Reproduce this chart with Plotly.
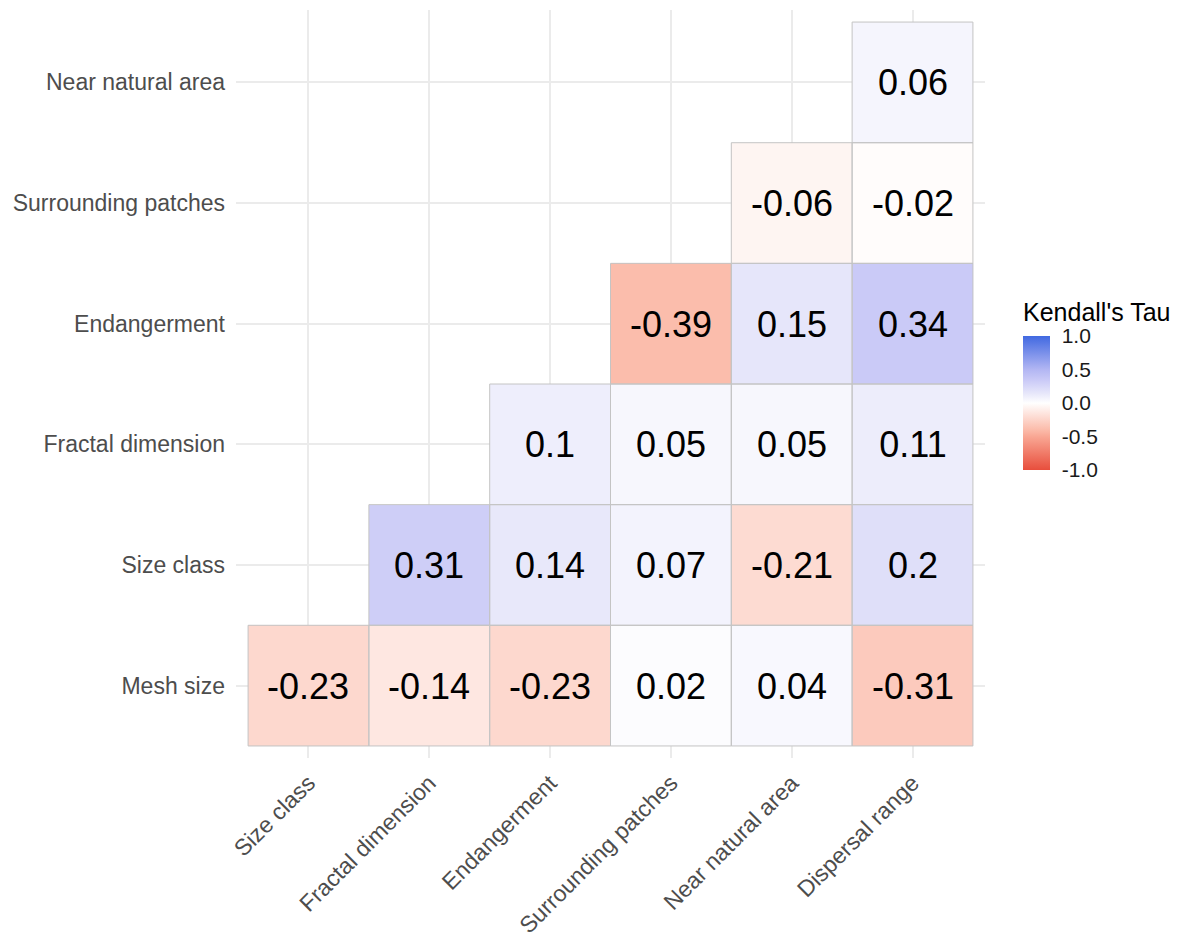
import plotly.graph_objects as go

# Variables on each axis
x_vars = ["Size class", "Fractal dimension", "Endangerment",
          "Surrounding patches", "Near natural area", "Dispersal range"]
y_vars = ["Mesh size", "Size class", "Fractal dimension",
          "Endangerment", "Surrounding patches", "Near natural area"]

# Kendall's tau per row (y variable), lower triangle only
tau_mesh_size = [-0.23, -0.14, -0.23, 0.02, 0.04, -0.31]
tau_size_class = [None, 0.31, 0.14, 0.07, -0.21, 0.2]
tau_fractal_dimension = [None, None, 0.1, 0.05, 0.05, 0.11]
tau_endangerment = [None, None, None, -0.39, 0.15, 0.34]
tau_surrounding_patches = [None, None, None, None, -0.06, -0.02]
tau_near_natural_area = [None, None, None, None, None, 0.06]

z = [tau_mesh_size, tau_size_class, tau_fractal_dimension,
     tau_endangerment, tau_surrounding_patches, tau_near_natural_area]
text = [["" if v is None else f"{v:g}" for v in row] for row in z]

colorscale = [
    [0.00, "rgb(232,78,60)"],
    [0.25, "rgb(249,167,148)"],
    [0.30, "rgb(251,187,170)"],
    [0.50, "rgb(255,255,255)"],
    [0.575, "rgb(230,230,250)"],
    [0.67, "rgb(202,202,247)"],
    [0.75, "rgb(178,182,243)"],
    [1.00, "rgb(65,105,225)"],
]

FONT = "Liberation Sans, Arial, sans-serif"

# Panel geometry in pixels
W, H = 1181, 937
ML, MR, MT, MB = 236, 196, 10, 179
PW, PH = W - ML - MR, H - MT - MB

fig = go.Figure(go.Heatmap(
    z=z, x=x_vars, y=y_vars, text=text, texttemplate="%{text}",
    textfont=dict(size=36, color="black", family=FONT),
    colorscale=colorscale, zmin=-1, zmax=1, hoverongaps=False,
    colorbar=dict(
        thickness=27, thicknessmode="pixels", len=134, lenmode="pixels",
        x=(1023 - ML) / PW, xanchor="left", xpad=0, ypad=0,
        y=(H - MB - 470) / PH, yanchor="bottom",
        tickvals=[-1, -0.5, 0, 0.5, 1],
        ticktext=["-1.0", "-0.5", "0.0", "0.5", "1.0"],
        ticks="outside", ticklen=8, tickcolor="white", tickwidth=1,
        tickfont=dict(size=21, color="#1A1A1A", family=FONT),
        outlinewidth=0,
    ),
))

# Legend title
fig.add_annotation(
    text="Kendall's Tau", xref="paper", yref="paper",
    x=(1021 - ML) / PW, y=(H - MB - 312) / PH,
    xanchor="left", yanchor="middle", showarrow=False,
    font=dict(size=25, color="black", family=FONT),
)

# Grey outline around every filled tile
for r, row in enumerate(z):
    for c, v in enumerate(row):
        if v is not None:
            fig.add_shape(type="rect", x0=c - 0.5, x1=c + 0.5,
                          y0=r - 0.5, y1=r + 0.5,
                          line=dict(color="#C4C4C4", width=1),
                          layer="above")

fig.update_layout(
    width=W, height=H,
    margin=dict(l=ML, r=MR, t=MT, b=MB, autoexpand=False),
    plot_bgcolor="white", paper_bgcolor="white",
    font=dict(family=FONT),
)
fig.update_xaxes(
    range=[-0.6, 5.6], showgrid=True, gridcolor="#EBEBEB", gridwidth=2,
    zeroline=False, showline=False, tickangle=-45, ticks="",
    ticklabelstandoff=6, automargin=False,
    tickfont=dict(size=23, color="#4D4D4D", family=FONT),
)
fig.update_yaxes(
    range=[-0.6, 5.6], showgrid=True, gridcolor="#EBEBEB", gridwidth=2,
    zeroline=False, showline=False, ticks="", ticklabelstandoff=10,
    automargin=False,
    tickfont=dict(size=23, color="#4D4D4D", family=FONT),
)

fig.write_html("out.html")
